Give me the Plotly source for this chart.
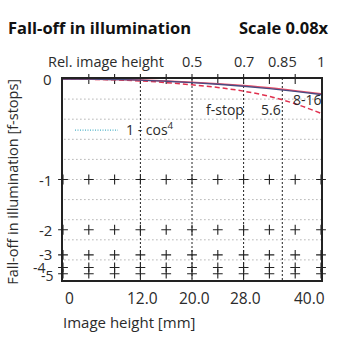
import plotly.graph_objects as go

# ---- data ----
image_height = [0, 4, 8, 12, 16, 20, 24, 28, 32, 36, 40]          # mm
falloff_8_16 = [0, -0.001, -0.004, -0.008, -0.016, -0.026, -0.038, -0.053, -0.071, -0.092, -0.116]
falloff_8_16_red = [0, -0.001, -0.003, -0.007, -0.014, -0.023, -0.034, -0.048, -0.065, -0.086, -0.110]
falloff_5_6 = [0, -0.002, -0.006, -0.014, -0.026, -0.042, -0.062, -0.090, -0.130, -0.190, -0.270]
stop_ticks = [0, -1, -2, -3, -4, -5]
x_tick_vals = [0, 12, 20, 28, 40]
x_tick_text = ["0", "12.0", "20.0", "28.0", "40.0"]
rel_heights = [0.5, 0.7, 0.85, 1]
rel_text = ["0.5", "0.7", "0.85", "1"]
vgrid = [12, 20, 28, 34]
hgrid = [0.1, 0.2, 0.3, 0.4, 0.5, 0.6, 0.7, 0.8, 0.9]
cross_x = [0, 4, 8, 12, 16, 20, 24, 28, 32, 36, 40]
max_h = 40

def b(s):
    return [2 ** v for v in s] if isinstance(s, list) else 2 ** s

FONT = "Open Sans"
TXT = "#2b2b2b"
fig = go.Figure()

shapes = []
for g in hgrid:
    shapes.append(dict(type="line", xref="x", yref="y", x0=-0.4, x1=max_h, y0=g, y1=g,
                       line=dict(color="#8a8a8a", width=1, dash="1px,3px"), layer="below"))
for v in vgrid:
    shapes.append(dict(type="line", xref="x", yref="y", x0=v, x1=v, y0=0, y1=1,
                       line=dict(color="#222", width=1, dash="2px,2px"), layer="below"))
shapes.append(dict(type="line", xref="paper", yref="paper",
                   x0=(75 - 63) / 258, x1=(118 - 63) / 258, y0=(280 - 130.5) / 200.5, y1=(280 - 130.5) / 200.5,
                   line=dict(color="#4fb3c8", width=1.3, dash="1px,1.5px")))
fig.update_layout(shapes=shapes)

cx, cy = [], []
for s in stop_ticks[1:]:
    for x in cross_x:
        cx.append(x)
        cy.append(b(s))
fig.add_trace(go.Scatter(x=cx, y=cy, mode="markers", cliponaxis=False, hoverinfo="skip",
                         marker=dict(symbol="cross-thin", size=7, line=dict(color="#222", width=1.1))))
fig.add_trace(go.Scatter(x=cross_x[1:-1], y=[1] * (len(cross_x) - 2), mode="markers", cliponaxis=False,
                         hoverinfo="skip",
                         marker=dict(symbol="line-ns", size=7, line=dict(color="#222", width=1.1))))

fig.add_trace(go.Scatter(x=image_height, y=b(falloff_5_6), mode="lines", line_shape="spline",
                         line=dict(color="#e0304e", width=1.5, dash="5px,3px")))
fig.add_trace(go.Scatter(x=image_height, y=b(falloff_8_16_red), mode="lines", line_shape="spline",
                         line=dict(color="#e8506a", width=1.5)))
fig.add_trace(go.Scatter(x=image_height, y=b(falloff_8_16), mode="lines", line_shape="spline",
                         line=dict(color="#4a4a80", width=1.4)))

ann = []
ann.append(dict(text="<b>Fall-off in illumination</b>", xref="paper", yref="paper",
                x=(6 - 63) / 258, y=(280 - 28) / 200.5, xanchor="left", yanchor="middle",
                showarrow=False, font=dict(size=16.5, color="#111", family=FONT)))
ann.append(dict(text="<b>Scale 0.08x</b>", xref="paper", yref="paper",
                x=(331 - 63) / 258, y=(280 - 28) / 200.5, xanchor="right", yanchor="middle",
                showarrow=False, font=dict(size=16.5, color="#111", family=FONT)))
ann.append(dict(text="Rel. image height", xref="paper", yref="paper",
                x=(46 - 63) / 258, y=(280 - 62) / 200.5, xanchor="left", yanchor="middle",
                showarrow=False, font=dict(size=14.5, color=TXT, family=FONT)))
for r, t in zip(rel_heights, rel_text):
    ann.append(dict(text=t, xref="x", yref="paper", x=r * max_h, y=(280 - 62) / 200.5,
                    xanchor="center", yanchor="middle", showarrow=False,
                    font=dict(size=14.5, color=TXT, family=FONT)))
shifts = {0: (-9, 0, 15), -1: (-9, 0, 15), -2: (-9, 0, 15), -3: (-9, 1, 15),
          -4: (-15, 0, 14), -5: (-7, -2, 14)}
for s in stop_ticks:
    xs, ys, fs = shifts[s]
    ann.append(dict(text=str(s) if s else "0", xref="paper", yref="y", x=0, y=b(s),
                    xanchor="right", yanchor="middle", xshift=xs, yshift=ys, showarrow=False,
                    font=dict(size=fs, color=TXT, family=FONT)))
for v, t in zip(x_tick_vals, x_tick_text):
    if v == 0:
        xa, xs = "left", 0
    elif v == max_h:
        xa, xs = "right", 6
    else:
        xa, xs = "center", 2
    ann.append(dict(text=t, xref="x", yref="paper", x=v, y=(280 - 298) / 200.5,
                    xanchor=xa, yanchor="middle", xshift=xs, showarrow=False,
                    font=dict(size=15.5, color=TXT, family=FONT)))
ann.append(dict(text="Image height [mm]", xref="paper", yref="paper",
                x=(61 - 63) / 258, y=(280 - 322) / 200.5, xanchor="left", yanchor="middle",
                showarrow=False, font=dict(size=15, color=TXT, family=FONT)))
ann.append(dict(text="Fall-off in illumination [f-stops]", xref="paper", yref="paper",
                x=(13 - 63) / 258, y=(280 - 182) / 200.5, xanchor="center", yanchor="middle",
                textangle=-90, showarrow=False, font=dict(size=14.5, color=TXT, family=FONT)))
ann.append(dict(text="f-stop", xref="paper", yref="paper", x=(225 - 63) / 258, y=(280 - 110) / 200.5,
                xanchor="center", yanchor="middle", showarrow=False,
                font=dict(size=14, color=TXT, family=FONT)))
ann.append(dict(text="5.6", xref="paper", yref="paper", x=(271 - 63) / 258, y=(280 - 110) / 200.5,
                xanchor="center", yanchor="middle", showarrow=False,
                font=dict(size=14, color=TXT, family=FONT)))
ann.append(dict(text="8-16", xref="paper", yref="paper", x=(307 - 63) / 258, y=(280 - 100) / 200.5,
                xanchor="center", yanchor="middle", showarrow=False,
                font=dict(size=14, color=TXT, family=FONT)))
ann.append(dict(text="1 - cos<sup>4</sup>", xref="paper", yref="paper", x=(124 - 63) / 258,
                y=(280 - 129) / 200.5, xanchor="left", yanchor="middle", showarrow=False,
                font=dict(size=14, color=TXT, family=FONT)))

fig.update_layout(
    annotations=ann,
    width=340, height=340,
    margin=dict(l=63, r=19, t=79, b=60),
    paper_bgcolor="white", plot_bgcolor="white",
    showlegend=False,
    xaxis=dict(range=[0, max_h], showgrid=False, zeroline=False, showticklabels=False, ticks="",
               showline=True, mirror=True, linecolor="#222", linewidth=1.5),
    yaxis=dict(range=[0, 1], showgrid=False, zeroline=False, showticklabels=False, ticks="",
               showline=True, mirror=True, linecolor="#222", linewidth=1.5),
)
fig.write_html("out.html")
